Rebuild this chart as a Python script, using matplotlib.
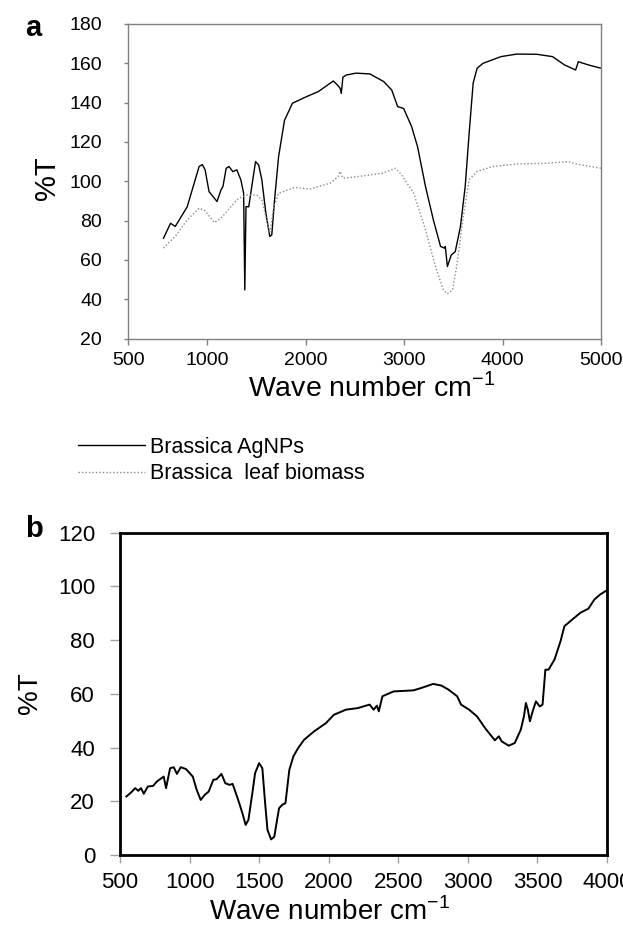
import matplotlib
matplotlib.use('Agg')
import matplotlib.pyplot as plt

plt.rcParams['font.family'] = ['Liberation Sans', 'DejaVu Sans']

# panel a: FTIR, Brassica AgNPs (solid) and leaf biomass (dotted)
wn_agnp = [557, 629, 677, 798, 879, 919, 952, 980, 1020, 1101, 1141, 1161, 1194, 1222,
           1262, 1302, 1343, 1371, 1383, 1395, 1423, 1464, 1492, 1524, 1556, 1597, 1637,
           1657, 1685, 1726, 1786, 1867, 2008, 2129, 2282, 2323, 2351, 2363, 2379, 2411,
           2512, 2653, 2794, 2875, 2935, 2996, 3077, 3137, 3218, 3298, 3371, 3411, 3419,
           3440, 3480, 3520, 3573, 3621, 3661, 3702, 3742, 3802, 3984, 4145, 4347, 4508,
           4629, 4742, 4770, 4871, 5000]
t_agnp = [71, 78.6, 77, 87, 100.7, 107.5, 108.5, 105.8, 94.7, 89.7, 95.6, 97.3, 106.6, 107.5,
          104.9, 105.8, 100.7, 93.9, 44.7, 87.1, 87, 100.7, 110, 108.3, 100.7, 83.7, 71.9,
          72.7, 90.5, 112.5, 131, 139.7, 143, 145.6, 151, 149, 147.3, 144.7, 152.9, 154,
          155, 154.6, 150.7, 146.4, 138, 137, 127.8, 117.6, 97.3, 80.3, 66.8, 66, 66.8,
          56.6, 62.5, 64.2, 77, 97.3, 124.4, 150, 157.5, 160, 163.4, 164.7, 164.6, 163.4,
          159.2, 156.6, 160.8, 159.2, 157.5]

wn_leaf = [557, 677, 798, 919, 980, 1073, 1141, 1242, 1323, 1403, 1504, 1556, 1597, 1637,
           1677, 1726, 1887, 2048, 2250, 2331, 2351, 2379, 2532, 2774, 2915, 2976, 3097,
           3218, 3319, 3399, 3440, 3492, 3540, 3601, 3661, 3742, 3903, 4145, 4468, 4669,
           4750, 5000]
t_leaf = [66, 72, 80.3, 86.3, 85, 79, 81.2, 87.1, 91.4, 93, 93, 90.5, 82, 73.6,
          87, 93.9, 96.8, 96.1, 99, 102.4, 105, 101.5, 102.4, 104, 106.6, 103.2, 94,
          75.3, 56.6, 44.7, 42.7, 44.7, 58.3, 82, 100.7, 105, 107.5, 108.8, 109.2, 110,
          108.8, 106.6]

xticks_a = [200, 1000, 2000, 3000, 4000, 5000]
xticklabels_a = ['500', '1000', '2000', '3000', '4000', '5000']

# panel b: FTIR of AgNPs
wn_b = [546, 580, 609, 631, 651, 671, 700, 737, 766, 814, 831, 860, 886, 909, 937, 974,
        1023, 1051, 1080, 1109, 1137, 1171, 1194, 1229, 1257, 1289, 1309, 1329, 1357,
        1380, 1403, 1423, 1451, 1471, 1500, 1523, 1543, 1560, 1586, 1609, 1629, 1643,
        1666, 1689, 1717, 1746, 1780, 1823, 1894, 1980, 2037, 2123, 2209, 2294, 2323,
        2346, 2360, 2386, 2466, 2609, 2666, 2751, 2809, 2860, 2923, 2951, 3009, 3066,
        3123, 3194, 3223, 3243, 3294, 3337, 3380, 3403, 3417, 3431, 3446, 3466, 3489,
        3517, 3537, 3557, 3580, 3623, 3666, 3694, 3751, 3809, 3866, 3909, 3951, 4000]
t_b = [21.8, 23.3, 24.9, 23.9, 24.9, 22.8, 25.5, 25.7, 27.4, 29.2, 24.9, 32.3, 32.7, 30.2,
       32.7, 32, 29.2, 24.3, 20.5, 22.4, 23.6, 28, 28.2, 30.2, 26.7, 26.1, 26.5, 23.6,
       19.3, 15.5, 11.2, 13.1, 23, 30.5, 34.2, 32.3, 19.3, 9.3, 5.8, 6.8, 13.1, 17.4,
       18.7, 19.3, 31.7, 36.7, 39.8, 42.9, 46, 49.1, 52.2, 54.1, 54.7, 56, 54.1, 55.6,
       53.5, 59.1, 60.9, 61.3, 62.2, 63.7, 63.1, 61.6, 59.1, 56, 54.1, 51.6, 47.3, 42.7,
       44.2, 42.3, 40.7, 41.7, 46.6, 51.6, 56.6, 54.1, 49.8, 53.5, 57.2, 55.3, 56, 69,
       69, 72.8, 79.6, 85.2, 87.7, 90.2, 91.7, 95.1, 97, 98.6]

W, H = 623, 931
fig = plt.figure(figsize=(W/100, H/100), dpi=100)

# ---- panel a ----
ax1 = fig.add_axes([128.3/W, 1 - 338.5/H, (601 - 128.3)/W, (338.5 - 24)/H])
l1, = ax1.plot(wn_agnp, t_agnp, color='black', lw=1.0)
l2, = ax1.plot(wn_leaf, t_leaf, color='#8a8a8a', lw=1.0, ls=(0, (1, 1.5)))
ax1.set_xlim(200, 5000)
ax1.set_ylim(20, 180)
ax1.set_xticks(xticks_a)
ax1.set_xticklabels(xticklabels_a)
ax1.set_yticks(range(20, 181, 20))
for s in ax1.spines.values():
    s.set_color('#808080')
    s.set_linewidth(1.0)
ax1.tick_params(axis='x', direction='out', length=4, width=1, color='#808080',
                labelsize=14, pad=6)
ax1.tick_params(axis='y', direction='out', length=3, width=1, color='#808080',
                labelsize=14, pad=16)
ax1.set_xlabel('Wave number cm$^{\\mathregular{-1}}$', fontsize=20.5, va='baseline')
ax1.xaxis.set_label_coords(0.515, -(396 - 338.5) / 314.5)
ax1.set_ylabel('%T', fontsize=21, va='center', ha='center')
ax1.yaxis.set_label_coords(-0.172, 0.51)

fig.text(33/W, 1 - 27.5/H, 'a', fontsize=21, fontweight='bold', ha='center', va='center')

fig.legend([l1, l2], ['Brassica AgNPs', 'Brassica  leaf biomass'],
           loc='upper left', bbox_to_anchor=(78/W, 1 - 437/H), frameon=False,
           fontsize=15.5, handlelength=3.1, handletextpad=0.25, labelspacing=0.25,
           borderpad=0, borderaxespad=0)

# ---- panel b ----
ax2 = fig.add_axes([120/W, 1 - 855/H, (607 - 120)/W, (855 - 532.7)/H])
ax2.plot(wn_b, t_b, color='black', lw=1.4)
ax2.set_xlim(500, 4000)
ax2.set_ylim(0, 120)
ax2.set_xticks(range(500, 4001, 500))
ax2.set_yticks(range(0, 121, 20))
for s in ax2.spines.values():
    s.set_color('black')
    s.set_linewidth(2.0)
ax2.tick_params(axis='x', direction='out', length=6, width=1, color='#a0a0a0',
                labelsize=16, pad=6)
ax2.tick_params(axis='y', direction='out', length=7, width=1, color='#a0a0a0',
                labelsize=16, pad=11)
ax2.set_xlabel('Wave number cm$^{\\mathregular{-1}}$', fontsize=20, va='baseline')
ax2.xaxis.set_label_coords(0.431, -(920 - 855) / 322.3)
ax2.set_ylabel('%T', fontsize=20, va='center', ha='center')
ax2.yaxis.set_label_coords(-0.185, 0.503)

fig.text(34/W, 1 - 529/H, 'b', fontsize=21, fontweight='bold', ha='center', va='center')

fig.savefig('out.png', dpi=100)
